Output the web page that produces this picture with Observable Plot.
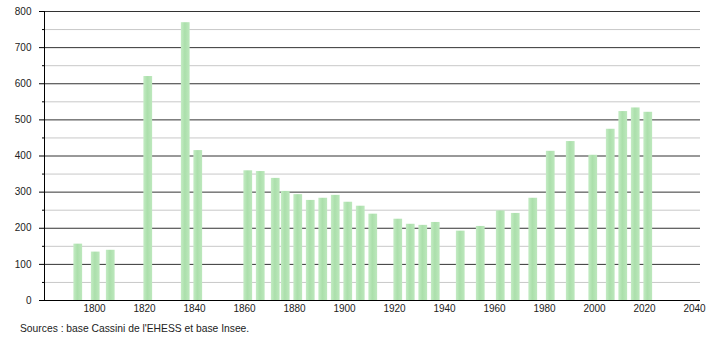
<!DOCTYPE html>
<html><head><meta charset="utf-8">
<script src="https://cdn.jsdelivr.net/npm/d3@7"></script>
<script src="https://cdn.jsdelivr.net/npm/@observablehq/plot@0.6"></script>
<style>
body{margin:0;background:#fff;font-family:"Liberation Sans",Arial,sans-serif}
#cap{font-size:10.3px;color:#222;margin:5px 0 0 20px;line-height:12px;font-family:"Liberation Sans",Arial,sans-serif}
</style>
</head><body>
<div id="chart"></div>
<div id="cap">Sources : base Cassini de l'EHESS et base Insee.</div>
<script>
const years = [1793,1800,1806,1821,1836,1841,1861,1866,1872,1876,1881,1886,1891,1896,1901,1906,1911,1921,1926,1931,1936,1946,1954,1962,1968,1975,1982,1990,1999,2006,2011,2016,2021];
const population = [156,134,139,620,769,415,359,357,338,302,293,277,283,291,272,261,239,225,211,208,216,192,205,248,241,283,413,440,402,474,523,533,521];
const xTicks = [1800,1820,1840,1860,1880,1900,1920,1940,1960,1980,2000,2020,2040];
const yTicks = [0,100,200,300,400,500,600,700,800];
const yMinor = [50,150,250,350,450,550,650,750];
const xDomain = [1780, 2042.4];

const table = years.map((y, i) => ({year: y, pop: population[i]}));

const defs = () => {
  const s = d3.create("svg:defs");
  const g = s.append("linearGradient").attr("id", "barGrad").attr("x1", 0).attr("x2", 1).attr("y1", 0).attr("y2", 0);
  g.append("stop").attr("offset", "0").attr("stop-color", "#c4ecc4");
  g.append("stop").attr("offset", "0.45").attr("stop-color", "#abdfab");
  g.append("stop").attr("offset", "1").attr("stop-color", "#bde8bd");
  return s.node();
};

const chart = Plot.plot({
  width: 710,
  height: 318,
  marginTop: 11,
  marginBottom: 18,
  marginLeft: 44,
  marginRight: 10,
  style: {fontFamily: "'Liberation Sans', Arial, sans-serif", fontSize: "10px", color: "#222", background: "#fff"},
  x: {domain: xDomain, axis: null},
  y: {domain: [0, 800], axis: null},
  marks: [
    defs,
    Plot.gridY(yMinor, {stroke: "#c8c8c8", strokeOpacity: 1}),
    Plot.gridY(yTicks, {stroke: "#333", strokeOpacity: 1}),
    Plot.rectY(table, {x1: d => d.year - 1.25, x2: d => d.year + 2.25, y: "pop", fill: "url(#barGrad)"}),
    Plot.ruleY([0], {stroke: "#000"}),
    Plot.ruleX([xDomain[0]], {stroke: "#000"}),
    Plot.axisY(yMinor, {tickSize: 2, tickFormat: () => "", stroke: "#000", label: null}),
    Plot.axisY(yTicks, {tickSize: 5, tickPadding: 8, stroke: "#000", fill: "#222", label: null}),
    Plot.axisX(xTicks, {tickSize: 0, tickPadding: 4, tickFormat: d => String(d), fill: "#222", label: null})
  ]
});
document.getElementById("chart").appendChild(chart);
</script>
</body></html>
